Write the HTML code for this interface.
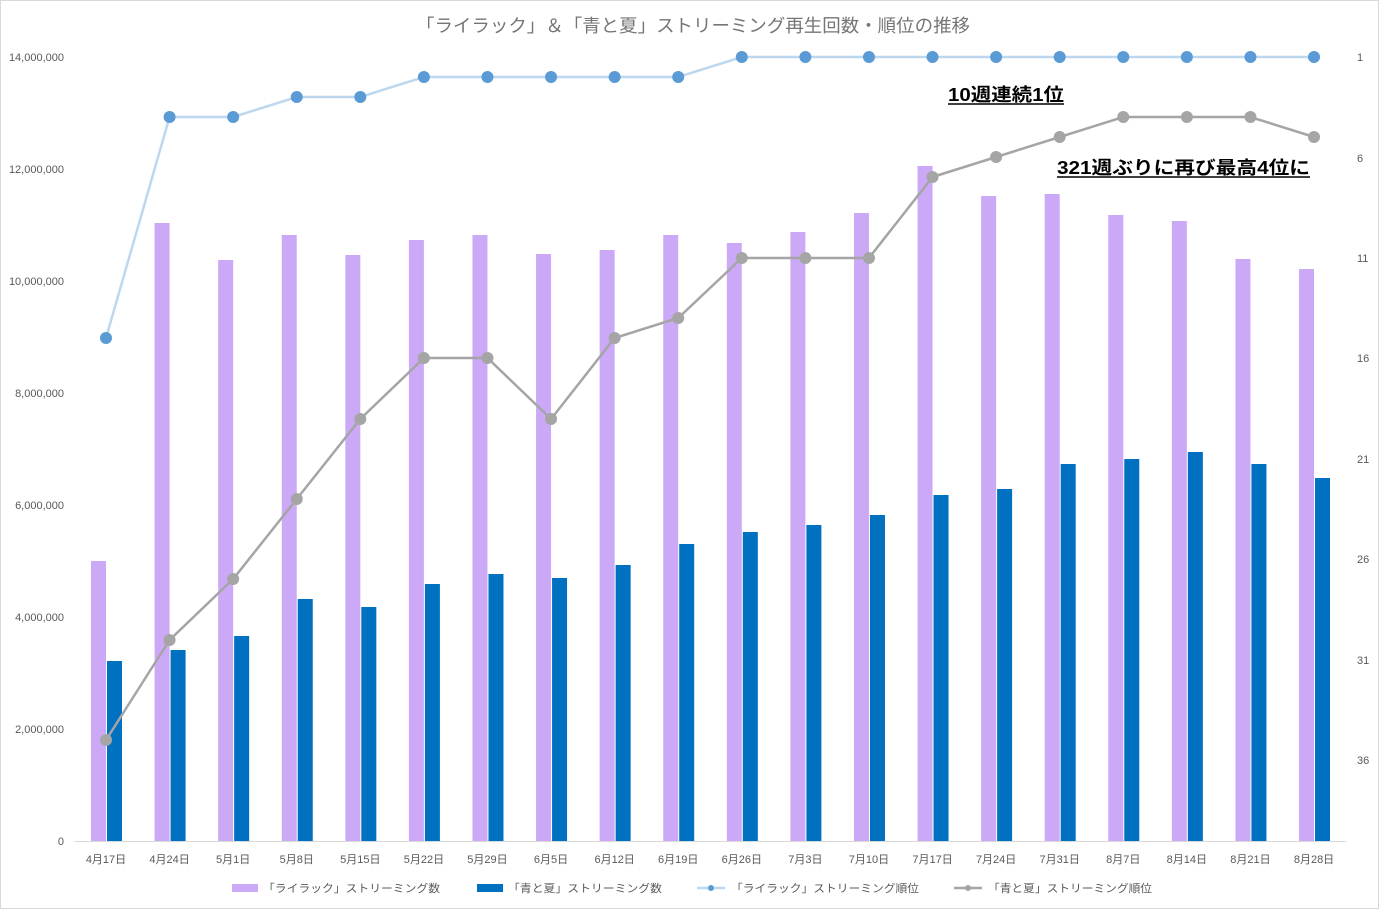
<!DOCTYPE html>
<html><head><meta charset="utf-8"><style>
body{margin:0;background:#fff}
svg{display:block;font-family:"Liberation Sans","Noto Sans CJK JP",sans-serif}
</style></head><body>
<svg width="1379" height="909" viewBox="0 0 1379 909" xmlns="http://www.w3.org/2000/svg">
<rect x="0.5" y="0.5" width="1378" height="908" fill="#fff" stroke="#d9d9d9"/>
<text x="416" y="32" textLength="554" lengthAdjust="spacingAndGlyphs" font-size="18" fill="#757575">「ライラック」＆「青と夏」ストリーミング再生回数・順位の推移</text>
<g font-size="11" fill="#595959" text-anchor="end">
<text x="64" y="845">0</text><text x="64" y="733">2,000,000</text><text x="64" y="621">4,000,000</text><text x="64" y="509">6,000,000</text><text x="64" y="397">8,000,000</text><text x="64" y="285">10,000,000</text><text x="64" y="173">12,000,000</text><text x="64" y="61">14,000,000</text>
</g>
<g font-size="11" fill="#595959">
<text x="1357" y="61">1</text><text x="1357" y="162">6</text><text x="1357" y="262">11</text><text x="1357" y="362">16</text><text x="1357" y="463">21</text><text x="1357" y="563">26</text><text x="1357" y="664">31</text><text x="1357" y="764">36</text>
</g>
<line x1="74" y1="841.5" x2="1346" y2="841.5" stroke="#d9d9d9"/>
<g id="bars"></g>
<g id="xl" font-size="11" fill="#595959" text-anchor="middle"></g>
<polyline id="l1" fill="none" stroke="#bdd7ee" stroke-width="2.5"/>
<g id="d1" fill="#5b9bd5"></g>
<polyline id="l2" fill="none" stroke="#a5a5a5" stroke-width="2.5"/>
<g id="d2" fill="#a5a5a5"></g>
<text x="948" y="101" textLength="116" lengthAdjust="spacingAndGlyphs" font-size="18" font-weight="bold" fill="#000">10週連続1位</text>
<line x1="948" y1="104" x2="1064" y2="104" stroke="#000" stroke-width="1.5"/>
<text x="1057" y="174" textLength="253" lengthAdjust="spacingAndGlyphs" font-size="18" font-weight="bold" fill="#000">321週ぶりに再び最高4位に</text>
<line x1="1057" y1="177" x2="1310" y2="177" stroke="#000" stroke-width="1.5"/>
<g font-size="11" fill="#595959">
<rect x="232" y="884" width="26" height="8" fill="#cca9f7"/><text x="263" y="892" textLength="177" lengthAdjust="spacingAndGlyphs">「ライラック」ストリーミング数</text>
<rect x="477" y="884" width="26" height="8" fill="#0070c0"/><text x="508" y="892" textLength="154" lengthAdjust="spacingAndGlyphs">「青と夏」ストリーミング数</text>
<line x1="697" y1="888" x2="725" y2="888" stroke="#bdd7ee" stroke-width="2.5"/><circle cx="711" cy="888" r="3" fill="#5b9bd5"/><text x="731" y="892" textLength="188" lengthAdjust="spacingAndGlyphs">「ライラック」ストリーミング順位</text>
<line x1="954" y1="888" x2="982" y2="888" stroke="#a5a5a5" stroke-width="2.5"/><circle cx="968" cy="888" r="3" fill="#a5a5a5"/><text x="988" y="892" textLength="164" lengthAdjust="spacingAndGlyphs">「青と夏」ストリーミング順位</text>
</g>
</svg>
<script>
var labels=["4月17日","4月24日","5月1日","5月8日","5月15日","5月22日","5月29日","6月5日","6月12日","6月19日","6月26日","7月3日","7月10日","7月17日","7月24日","7月31日","8月7日","8月14日","8月21日","8月28日"];
var p=[561,223,260,235,255,240,235,254,250,235,243,232,213,166,196,194,215,221,259,269];
var b=[661,650,636,599,607,584,574,578,565,544,532,525,515,495,489,464,459,452,464,478];
var r1=[338,117,117,97,97,77,77,77,77,77,57,57,57,57,57,57,57,57,57,57];
var r2=[740,640,579,499,419,358,358,419,338,318,258,258,258,177,157,137,117,117,117,137];
var ns="http://www.w3.org/2000/svg";
function el(t,a,par){var e=document.createElementNS(ns,t);for(var k in a)e.setAttribute(k,a[k]);document.getElementById(par).appendChild(e);return e;}
var pts1=[],pts2=[];
for(var i=0;i<20;i++){var c=106+i*63.58;
el("rect",{x:c-15,y:p[i],width:15,height:841-p[i],fill:"#cca9f7"},"bars");
el("rect",{x:c+1,y:b[i],width:15,height:841-b[i],fill:"#0070c0"},"bars");
var t=el("text",{x:c,y:863},"xl");t.textContent=labels[i];
pts1.push(c+","+r1[i]);pts2.push(c+","+r2[i]);
el("circle",{cx:c,cy:r1[i],r:6},"d1");el("circle",{cx:c,cy:r2[i],r:6},"d2");}
document.getElementById("l1").setAttribute("points",pts1.join(" "));
document.getElementById("l2").setAttribute("points",pts2.join(" "));
</script>
</body></html>
